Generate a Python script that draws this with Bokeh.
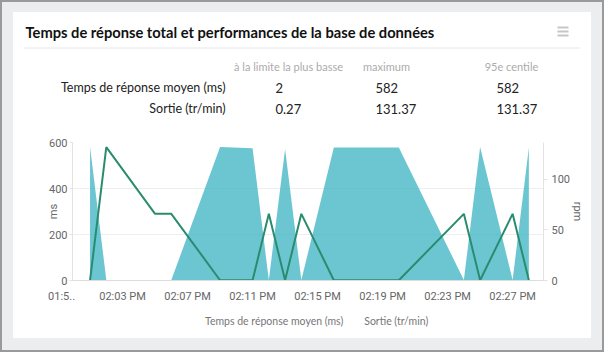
from bokeh.plotting import figure
from bokeh.layouts import column, row
from bokeh.models import (Range1d, LinearAxis, FixedTicker, Legend, LegendItem, ColumnDataSource)
from bokeh.core.properties import value
from bokeh.embed import file_html
from bokeh.resources import INLINE

# ---------------- data ----------------
title = "Temps de réponse total et performances de la base de données"
col_headers = ["à la limite la plus basse", "maximum", "95e centile"]
row_labels = ["Temps de réponse moyen (ms)", "Sortie (tr/min)"]
row_ms = ["2", "582", "582"]
row_rpm = ["0.27", "131.37", "131.37"]

minutes = [1, 2, 5, 6, 9, 11, 12, 13, 14, 16, 20, 24, 25, 27, 28]   # minutes after 02:00 PM
resp_ms = [582, 2, 2, 2, 580, 575, 2, 572, 2, 578, 578, 2, 580, 2, 578]
out_rpm = [0.27, 131.37, 65.69, 65.69, 0.27, 0.27, 65.69, 0.27, 65.69, 0.27, 0.27, 65.69, 0.27, 65.69, 0.27]

x_ticks = [3, 7, 11, 15, 19, 23, 27]
x_tick_labels = ["02:03 PM", "02:07 PM", "02:11 PM", "02:15 PM", "02:19 PM", "02:23 PM", "02:27 PM"]
first_cut_label = "01:5.."
ms_ticks = [0, 200, 400, 600]
rpm_ticks = [0, 50, 100]
series_names = ["Temps de réponse moyen (ms)", "Sortie (tr/min)"]

AREA_C = "#3ab3c3"
LINE_C = "#2a8c6e"
FONT = "Lato"
TICK_FONT = "Roboto"
CARD_W = 578
X0 = -0.08

# ---------------- header (title + summary table) ----------------
hdr = figure(width=CARD_W, height=118, output_backend="svg", toolbar_location=None,
             x_range=Range1d(13, 591), y_range=Range1d(130, 12),
             x_axis_type=None, y_axis_type=None, min_border=0)
hdr.grid.visible = False
hdr.outline_line_color = None
hdr.background_fill_color = "white"
hdr.border_fill_color = "white"

def htext(xs, ys, texts, size, color, align="left", style="normal"):
    hdr.text(x=xs, y=ys, text=texts, text_font=value(FONT), text_font_size=size,
             text_color=color, text_align=align, text_baseline="middle", text_font_style=style)

htext([25], [31], [title], "14.7px", "#111111", style="bold")
hdr.segment(x0=[23], y0=[47.5], x1=[579], y1=[47.5], line_color="#e6e6e6", line_width=1)
hdr.segment(x0=[557] * 3, y0=[27, 31, 35], x1=[568] * 3, y1=[27, 31, 35], line_color="#c6c6c6", line_width=2)
htext([288, 386, 511], [66] * 3, col_headers, "11px", "#ababab", align="center")
htext([225, 225], [87, 108], row_labels, "12.5px", "#222222", align="right")
htext([275, 375, 496], [87] * 3, row_ms, "13px", "#222222")
htext([275, 375, 496], [108] * 3, row_rpm, "13px", "#222222")

# ---------------- chart ----------------
p = figure(width=CARD_W, height=175, output_backend="svg", toolbar_location=None,
           x_range=Range1d(X0, 28.9), y_range=Range1d(0, 600),
           min_border_left=59, min_border_right=48, min_border_top=12, min_border_bottom=23)
p.extra_y_ranges = {"rpm": Range1d(0, 136)}
p.border_fill_color = "white"
p.background_fill_color = "white"
p.outline_line_color = None

src = ColumnDataSource(dict(m=minutes, ms=resp_ms, rpm=out_rpm))
p.varea(x="m", y1=0, y2="ms", source=src, fill_color=AREA_C, fill_alpha=0.75)
p.line(x="m", y="rpm", source=src, y_range_name="rpm", line_color=LINE_C, line_width=2)

xa = p.xaxis[0]
all_ticks = [X0] + x_ticks
xa.ticker = FixedTicker(ticks=all_ticks)
overrides = {t: l for t, l in zip(x_ticks, x_tick_labels)}
overrides[X0] = first_cut_label + "\u00a0" * 8
xa.major_label_overrides = overrides
xa.axis_line_color = "#dddddd"
xa.major_tick_line_color = None
xa.minor_tick_line_color = None
xa.major_label_standoff = 3
xa.major_label_text_font = TICK_FONT
xa.major_label_text_font_size = "11px"
xa.major_label_text_color = "#666"

ya = p.yaxis[0]
ya.ticker = FixedTicker(ticks=ms_ticks)
ya.axis_label = "ms"
ra = LinearAxis(y_range_name="rpm", ticker=FixedTicker(ticks=rpm_ticks), axis_label="rpm")
p.add_layout(ra, "right")
for a in (ya, ra):
    a.axis_line_color = "#e3e3e3"
    a.major_tick_line_color = "#e3e3e3"
    a.major_tick_in = 0
    a.minor_tick_line_color = None
    a.major_label_text_font = TICK_FONT
    a.major_label_text_font_size = "11px"
    a.major_label_text_color = "#666"
    a.axis_label_text_font = TICK_FONT
    a.axis_label_text_font_size = "11px"
    a.axis_label_text_font_style = "normal"
    a.axis_label_text_color = "#666"
ya.major_tick_out = 3
ya.major_label_standoff = 2
ya.axis_label_standoff = -14
ra.major_tick_out = 4
ra.major_label_standoff = 4
ra.axis_label_standoff = -2

p.xgrid.grid_line_color = None
p.ygrid.ticker = FixedTicker(ticks=ms_ticks)
p.ygrid.grid_line_color = "#eeeeee"

# ---------------- legend ----------------
lf = figure(width=CARD_W, height=33, output_backend="svg", toolbar_location=None,
            x_range=Range1d(0, 1), y_range=Range1d(0, 1),
            x_axis_type=None, y_axis_type=None, min_border=0)
lf.grid.visible = False
lf.outline_line_color = None
lf.background_fill_color = "white"
lf.border_fill_color = "white"
lg1 = lf.quad(left=[], right=[], top=[], bottom=[], fill_color=AREA_C, line_color=None)
lg2 = lf.quad(left=[], right=[], top=[], bottom=[], fill_color=LINE_C, line_color=None)
legend = Legend(items=[LegendItem(label=series_names[0], renderers=[lg1]),
                       LegendItem(label=series_names[1], renderers=[lg2])],
                orientation="horizontal", location=(179, 11),
                border_line_color=None, background_fill_alpha=0,
                label_text_font=FONT, label_text_font_size="10.5px", label_text_color="#777",
                glyph_width=9, glyph_height=9, label_height=12, spacing=8, label_standoff=4,
                padding=0, margin=0)
lf.add_layout(legend, "center")

card = column(row(hdr), row(p), row(lf), spacing=0, styles={"background-color": "white"})
layout = column(card, spacing=0,
                styles={"background-color": "#ebedef", "border": "2px solid #9a9a9a",
                        "padding": "10px 11px 12px 11px"})

open("out.html", "w").write(file_html(layout, INLINE))
